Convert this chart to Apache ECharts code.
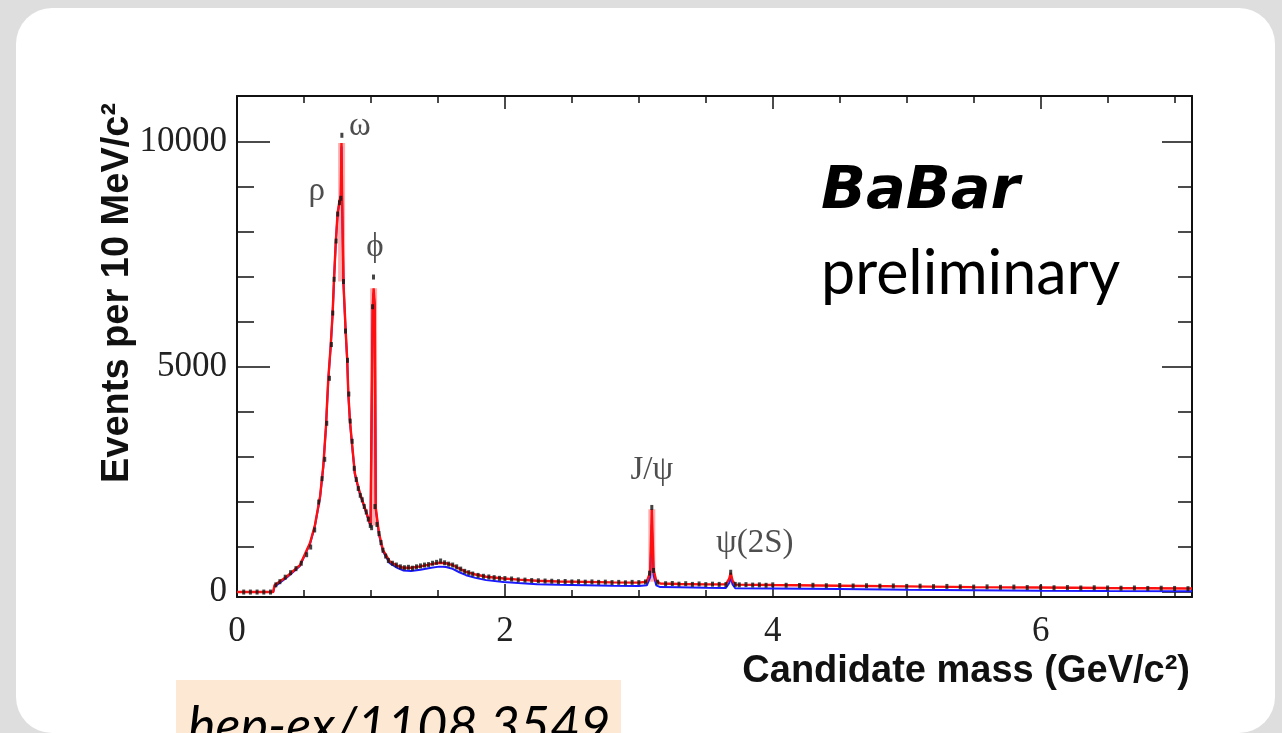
<!DOCTYPE html>
<html><head><meta charset="utf-8">
<script src="https://cdn.jsdelivr.net/npm/echarts@6/dist/echarts.min.js"></script>
<style>html,body{margin:0;padding:0;background:#dedede}#c{width:1282px;height:733px}</style>
</head><body><div id="c"></div>
<script>
// ---- data ----
const massGrid = [0,0.27,0.28,0.37,0.47,0.545,0.582,0.62,0.644,0.664,0.681,0.699,0.714,0.724,0.737,0.751,0.766,0.775,0.780,0.785,0.795,0.811,0.823,0.831,0.843,0.856,0.88,0.90,0.918,0.94,0.968,0.997,1.008,1.013,1.020,1.028,1.036,1.06,1.09,1.14,1.20,1.24,1.30,1.37,1.45,1.51,1.56,1.61,1.66,1.71,1.78,1.86,1.99,2.10,2.24,2.40,2.60,2.80,3.00,3.06,3.085,3.097,3.11,3.13,3.16,3.30,3.50,3.65,3.675,3.686,3.70,3.72,4.0,4.5,5.0,5.5,6.0,6.5,7.13];
const fitVals = [0,0,150,340,600,1090,1490,2120,2790,3670,4710,5450,6200,6930,7750,8420,8700,8800,9980,8700,6860,5820,5150,4420,3820,3380,2640,2400,2200,2000,1750,1490,1480,6300,6750,6400,1870,1310,930,680,580,540,540,570,620,650,640,600,520,450,390,340,300,275,250,235,225,215,210,230,450,1840,500,250,190,180,170,170,300,430,250,165,155,140,125,110,100,90,80];
const bkgVals = [0,0,120,320,580,1070,1470,2100,2770,3650,4690,5430,6180,6910,7730,8400,8680,8780,9900,8680,6840,5800,5130,4400,3800,3360,2620,2380,2180,1980,1730,1470,1460,6250,6650,6350,1840,1280,900,640,530,480,470,495,540,565,555,515,440,375,315,265,225,200,175,160,150,140,135,150,330,1500,380,150,110,105,95,90,200,330,170,85,80,65,50,40,30,22,15];
const dataMass = [0.05,0.10,0.15,0.20,0.25,0.29,0.32,0.36,0.40,0.44,0.48,0.52,0.55,0.58,0.61,0.635,0.655,0.67,0.69,0.705,0.715,0.725,0.74,0.752,0.765,0.775,0.783,0.795,0.81,0.825,0.835,0.845,0.86,0.875,0.89,0.905,0.92,0.935,0.95,0.965,0.98,0.995,1.005,1.012,1.019,1.03,1.045,1.06,1.075,1.09,1.11,1.13,1.16,1.19,1.22,1.25,1.28,1.31,1.34,1.37,1.40,1.43,1.46,1.49,1.52,1.55,1.58,1.61,1.64,1.67,1.70,1.73,1.76,1.80,1.84,1.88,1.92,1.96,2.00,2.05,2.10,2.15,2.20,2.25,2.30,2.35,2.40,2.45,2.50,2.55,2.60,2.65,2.70,2.75,2.80,2.85,2.90,2.95,3.00,3.05,3.08,3.097,3.11,3.14,3.20,3.25,3.30,3.35,3.40,3.45,3.50,3.55,3.60,3.65,3.686,3.72,3.75,3.80,3.85,3.90,3.95,4.00,4.10,4.20,4.30,4.40,4.50,4.60,4.70,4.80,4.90,5.00,5.10,5.20,5.30,5.40,5.50,5.60,5.70,5.80,5.90,6.00,6.10,6.20,6.30,6.40,6.50,6.60,6.70,6.80,6.90,7.00,7.10];
const dataVals = [0,0,0,0,0,160,230,330,430,520,640,830,1000,1380,2000,2520,2950,3750,4750,5500,6200,6950,7800,8400,8650,8750,10150,6900,5800,5150,4400,3800,3350,2750,2500,2300,2150,2050,1900,1780,1620,1480,1430,6340,7000,1900,1500,1300,1100,930,800,700,640,600,560,540,550,530,560,580,600,610,640,660,690,650,620,600,560,510,460,430,400,370,350,335,320,305,300,290,270,265,255,250,245,240,230,235,225,230,220,225,215,220,210,215,205,215,210,225,420,1880,480,220,185,190,175,185,170,180,165,175,170,165,440,170,160,165,155,160,150,160,150,145,150,140,145,135,140,130,135,125,130,120,125,115,110,115,105,110,100,105,95,100,90,95,90,85,90,80,85,80,75];
const peakMass = [0.781, 1.020, 3.097];
const peakBase = [6900, 1480, 230];
const peakTop = [9980, 6750, 1840];
const resonanceNames = ['ρ', 'ω', 'ϕ', 'J/ψ', 'ψ(2S)'];
const resonanceMass = [0.595, 0.918, 1.03, 3.097, 3.866];
const resonanceVals = [8900, 10340, 7670, 2710, 1090];
const xMajor = [0, 2, 4, 6];
const xMinor = [0.5, 1, 1.5, 2.5, 3, 3.5, 4.5, 5, 5.5, 6.5, 7];
const yMajor = [0, 5000, 10000];
const yMinor = [1000, 2000, 3000, 4000, 6000, 7000, 8000, 9000];
const yTitle = 'Events per 10 MeV/c²';
const xTitle = 'Candidate mass (GeV/c²)';

// ---- chart ----
const X_MIN = 0, X_MAX = 7.13, Y_MIN = -110, Y_MAX = 11023;
const zip = (a, b) => a.map((v, i) => [v, b[i]]);
const frameLine = { show: true, onZero: false, lineStyle: { color: '#111', width: 2 } };
const noLine = { show: false, onZero: false };
const plain = v => String(v);
function xAx(pos, ticks, len, labels, withLine) {
  return {
    type: 'value', position: pos, min: X_MIN, max: X_MAX, gridIndex: 0,
    axisLine: withLine ? frameLine : noLine,
    splitLine: { show: false },
    axisTick: { show: true, inside: true, length: len, customValues: ticks, lineStyle: { color: '#111', width: 1.5 } },
    axisLabel: labels ? { show: true, customValues: ticks, margin: 17, color: '#222', formatter: plain,
      fontFamily: 'Liberation Serif', fontSize: 35 } : { show: false }
  };
}
function yAx(pos, ticks, len, labels, withLine) {
  return {
    type: 'value', position: pos, min: Y_MIN, max: Y_MAX, gridIndex: 0,
    axisLine: withLine ? frameLine : noLine,
    splitLine: { show: false },
    axisTick: { show: true, inside: true, length: len, customValues: ticks, lineStyle: { color: '#111', width: 1.5 } },
    axisLabel: labels ? { show: true, customValues: ticks, margin: 10, color: '#222', formatter: plain,
      fontFamily: 'Liberation Serif', fontSize: 35 } : { show: false }
  };
}

const chart = echarts.init(document.getElementById('c'), null, { renderer: 'canvas' });
chart.setOption({
  backgroundColor: '#dedede',
  animation: false,
  grid: { left: 237, right: 90, top: 96, bottom: 136, containLabel: false },
  xAxis: [
    xAx('bottom', xMajor, 13, true, true),
    xAx('bottom', xMinor, 7, false, false),
    xAx('top', xMajor, 13, false, true),
    xAx('top', xMinor, 7, false, false)
  ],
  yAxis: [
    yAx('left', yMajor, 33, true, true),
    yAx('left', yMinor, 17, false, false),
    yAx('right', yMajor, 30, false, true),
    yAx('right', yMinor, 14, false, false)
  ],
  graphic: [
    { type: 'rect', z: -100, silent: true, shape: { x: 16, y: 8, width: 1259, height: 725, r: 36 }, style: { fill: '#ffffff' } },
    { type: 'rect', z: 10, shape: { x: 176, y: 680, width: 445, height: 60 }, style: { fill: '#fde9d3' } },
    { type: 'text', z: 11, x: 188, y: 727, style: { text: 'hep-ex/1108.3549', font: 'italic 52px Lato', fill: '#000', align: 'left', verticalAlign: 'middle' } },
    { type: 'text', z: 11, x: 821, y: 193, style: { text: 'BaBar', font: 'italic bold 59px "DejaVu Sans"', fill: '#000', align: 'left', verticalAlign: 'middle' } },
    { type: 'text', z: 11, x: 821, y: 274, style: { text: 'preliminary', font: '61px Lato', fill: '#000', align: 'left', verticalAlign: 'middle' } },
    { type: 'text', z: 11, x: 118, y: 293, rotation: Math.PI / 2, style: { text: yTitle, font: 'bold 38px "Liberation Sans"', fill: '#111', align: 'center', verticalAlign: 'middle' } },
    { type: 'text', z: 11, x: 1190, y: 672, style: { text: xTitle, font: 'bold 38px "Liberation Sans"', fill: '#111', align: 'right', verticalAlign: 'middle' } }
  ],
  series: [
    { type: 'custom', xAxisIndex: 0, yAxisIndex: 0, z: 1, silent: true,
      data: peakMass.map((m, i) => [m, peakBase[i], peakTop[i]]),
      renderItem: function (params, api) {
        const top = api.coord([api.value(0), api.value(2)]);
        const bot = api.coord([api.value(0), api.value(1)]);
        return { type: 'rect', shape: { x: top[0] - 3.5, y: top[1], width: 7, height: bot[1] - top[1] },
          style: { fill: 'rgba(255,110,110,0.55)' } };
      } },
    { type: 'line', xAxisIndex: 0, yAxisIndex: 0, data: zip(massGrid, bkgVals), showSymbol: false,
      lineStyle: { color: '#1a1aff', width: 2 }, z: 2, silent: true },
    { type: 'line', xAxisIndex: 0, yAxisIndex: 0, data: zip(massGrid, fitVals), showSymbol: false,
      lineStyle: { color: '#ff1010', width: 2.4 }, z: 3, silent: true },
    { type: 'scatter', xAxisIndex: 0, yAxisIndex: 0, data: zip(dataMass, dataVals), symbol: 'rect', symbolSize: [3, 5],
      itemStyle: { color: '#151515' }, z: 4, silent: true },
    { type: 'scatter', xAxisIndex: 0, yAxisIndex: 0, symbolSize: 0, z: 5, silent: true,
      data: resonanceNames.map((n, i) => ({ name: n, value: [resonanceMass[i], resonanceVals[i]] })),
      label: { show: true, position: 'inside', formatter: '{b}', fontFamily: 'Liberation Serif', fontSize: 33, color: '#222' } }
  ]
});
</script></body></html>
